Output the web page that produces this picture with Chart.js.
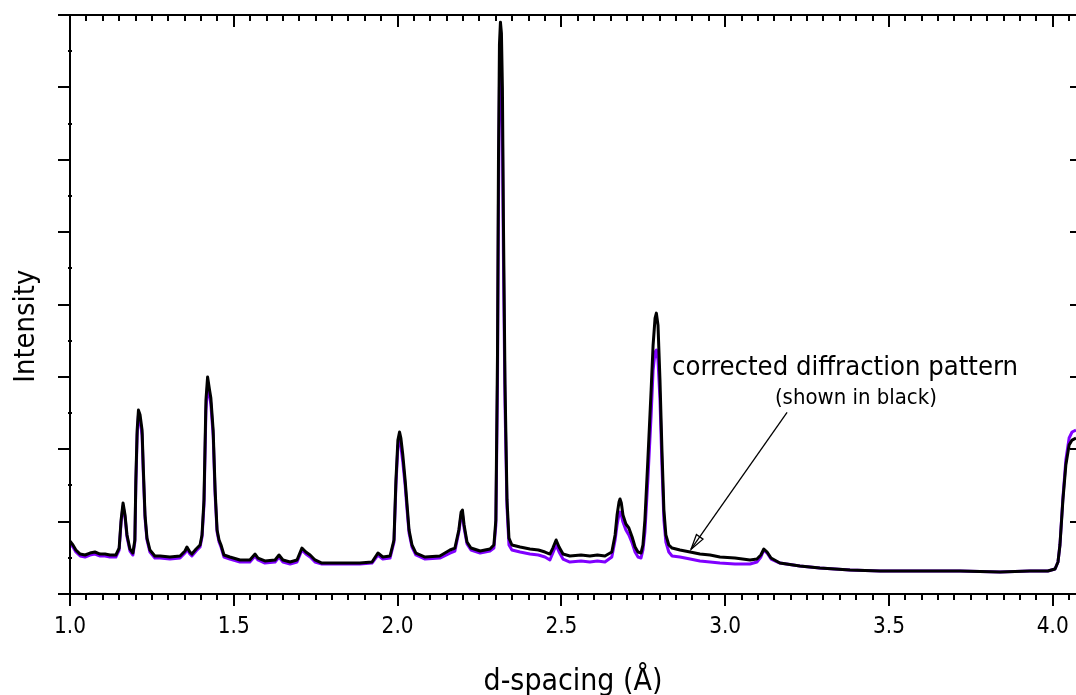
<!DOCTYPE html>
<html><head><meta charset="utf-8">
<script src="https://cdn.jsdelivr.net/npm/chart.js@4/dist/chart.umd.min.js"></script>
<style>html,body{margin:0;padding:0;background:#fff;overflow:hidden}</style>
</head><body>
<canvas id="c" width="1076" height="695"></canvas>
<script>
// ---- data (d-spacing in Å, intensity in arbitrary units) ----
const dSpacing = [
1.000,1.009,1.018,1.031,1.046,1.061,1.076,1.092,1.107,1.122,1.140,1.150,1.156,1.162,1.168,1.174,1.183,1.192,1.198,1.201,
1.205,1.209,1.214,1.220,1.224,1.229,1.235,1.244,1.259,1.275,1.305,1.336,1.351,1.357,1.366,1.372,1.385,1.397,1.403,1.409,
1.415,1.420,1.426,1.430,1.437,1.443,1.449,1.455,1.461,1.470,1.488,1.519,1.549,1.565,1.574,1.595,1.626,1.638,1.650,1.672,
1.693,1.708,1.720,1.733,1.748,1.769,1.824,1.885,1.922,1.940,1.955,1.977,1.989,1.995,2.001,2.006,2.010,2.016,2.023,2.029,
2.035,2.044,2.056,2.084,2.129,2.160,2.175,2.187,2.194,2.198,2.203,2.212,2.224,2.252,2.282,2.294,2.300,2.305,2.308,2.311,
2.314,2.317,2.320,2.323,2.328,2.334,2.340,2.349,2.374,2.404,2.430,2.450,2.465,2.474,2.484,2.493,2.505,2.526,2.560,2.587,
2.610,2.633,2.654,
2.664,2.670,2.676,2.679,2.683,2.688,2.697,2.706,2.716,2.725,2.734,2.743,2.749,2.755,2.764,2.774,2.780,2.786,2.790,2.795,
2.801,2.807,2.813,2.819,2.828,2.838,2.862,2.893,2.923,2.954,2.984,3.030,3.076,3.097,3.109,3.118,3.128,3.140,3.167,3.228,
3.289,3.381,3.473,3.595,3.717,3.839,3.930,3.985,4.007,4.016,4.022,4.031,4.040,4.050,4.059,4.071];

const correctedIntensity = [
0.732,0.677,0.608,0.552,0.539,0.566,0.580,0.552,0.552,0.539,0.539,0.635,1.022,1.257,1.091,0.815,0.622,0.566,0.746,1.575,
2.265,2.541,2.472,2.265,1.713,1.091,0.773,0.608,0.525,0.525,0.511,0.525,0.594,0.649,0.580,0.552,0.622,0.677,0.815,1.298,
2.680,2.997,2.818,2.707,2.265,1.436,0.884,0.746,0.677,0.539,0.511,0.470,0.470,0.552,0.497,0.456,0.470,0.539,0.470,0.442,
0.470,0.635,0.580,0.539,0.470,0.428,0.428,0.428,0.442,0.566,0.511,0.525,0.746,1.575,2.127,2.238,2.155,1.920,1.575,1.229,
0.884,0.677,0.566,0.511,0.525,0.608,0.635,0.884,1.133,1.160,0.953,0.718,0.635,0.594,0.622,0.677,1.022,3.300,6.000,7.600,
7.901,7.750,7.000,5.200,2.900,1.300,0.773,0.677,0.649,0.622,0.608,0.580,0.552,0.635,0.746,0.649,0.552,0.525,0.539,0.525,
0.539,0.525,0.580,
0.815,1.091,1.271,1.312,1.257,1.091,0.967,0.912,0.787,0.649,0.580,0.566,0.677,1.022,1.851,2.818,3.439,3.812,3.881,3.715,
2.956,1.989,1.160,0.815,0.677,0.635,0.608,0.580,0.552,0.539,0.511,0.497,0.470,0.483,0.539,0.622,0.580,0.497,0.428,0.387,
0.359,0.331,0.318,0.318,0.318,0.304,0.318,0.318,0.345,0.442,0.677,1.298,1.782,2.058,2.127,2.155];

const originalIntensity = [
0.704,0.649,0.580,0.525,0.511,0.539,0.552,0.525,0.525,0.511,0.511,0.608,0.994,1.215,1.064,0.787,0.594,0.539,0.718,1.506,
2.196,2.472,2.403,2.196,1.644,1.050,0.746,0.580,0.497,0.497,0.483,0.497,0.566,0.622,0.552,0.525,0.594,0.649,0.787,1.229,
2.541,2.887,2.735,2.624,2.196,1.367,0.856,0.718,0.649,0.511,0.483,0.442,0.442,0.525,0.470,0.428,0.442,0.511,0.442,0.414,
0.442,0.608,0.552,0.511,0.442,0.414,0.414,0.414,0.428,0.539,0.483,0.497,0.718,1.506,2.044,2.127,2.044,1.823,1.506,1.160,
0.843,0.649,0.539,0.483,0.497,0.566,0.594,0.856,1.091,1.105,0.912,0.691,0.608,0.566,0.594,0.635,0.953,2.900,5.400,7.000,
7.238,7.100,6.400,4.700,2.600,1.200,0.677,0.608,0.580,0.552,0.539,0.511,0.470,0.566,0.677,0.580,0.483,0.442,0.456,0.442,
0.456,0.442,0.511,
0.746,0.953,1.105,1.133,1.091,0.994,0.884,0.815,0.704,0.580,0.511,0.497,0.608,0.856,1.575,2.472,3.094,3.343,3.370,3.232,
2.680,1.782,1.022,0.718,0.580,0.525,0.511,0.483,0.456,0.442,0.428,0.414,0.414,0.442,0.511,0.608,0.566,0.483,0.428,0.387,
0.359,0.331,0.318,0.318,0.318,0.304,0.318,0.318,0.345,0.442,0.677,1.326,1.851,2.155,2.238,2.265];

const xLimits = [1.0, 4.071];
const yLimits = [0, 8];
const xMajorStep = 0.5, xMinorStep = 0.05;
const yMajorStep = 1, yMinorStep = 0.5;
const xAxisTitle = 'd-spacing (Å)';
const yAxisTitle = 'Intensity';
const noteTitle = 'corrected diffraction pattern';
const noteSub = '(shown in black)';
// annotation anchors in data units
const noteTitleAt = [3.366, 3.025];
const noteSubAt = [3.399, 2.622];
const arrowFrom = [3.189, 2.51];
const arrowTo = [2.896, 0.62];
const yTitleCenter = 3.70;

// ---- fonts ----
const FAMILY = "'DejaVu Sans Condensed', 'DejaVu Sans', sans-serif";
const mctx = document.createElement('canvas').getContext('2d');
function fitSize(text, target) {
  mctx.font = '100px ' + FAMILY;
  return 100 * target / mctx.measureText(text).width;
}
const tickSize = fitSize('1.0', 32);
const xTitleSize = fitSize(xAxisTitle, 179);
const yTitleSize = fitSize(yAxisTitle, 113);
const noteSize = fitSize(noteTitle, 346);
const subSize = fitSize(noteSub, 162);

const framePlugin = {
  id: 'frame',
  afterDatasetsDraw(chart) {
    const ctx = chart.ctx, xs = chart.scales.x, ys = chart.scales.y;
    const L = xs.left, R = xs.right, T = ys.top, B = ys.bottom;
    ctx.save();
    ctx.strokeStyle = '#000';
    ctx.lineWidth = 2;
    ctx.lineCap = 'butt';
    ctx.beginPath();
    ctx.moveTo(L, T - 1); ctx.lineTo(L, B + 1);
    ctx.moveTo(L, B); ctx.lineTo(R, B);
    ctx.moveTo(L, T); ctx.lineTo(R, T);
    // x ticks
    const nx = Math.round((xLimits[1] - xLimits[0]) / xMinorStep);
    for (let i = 0; i <= nx; i++) {
      const v = xLimits[0] + i * xMinorStep;
      if (v > xLimits[1] + 1e-9) break;
      const px = Math.round(xs.getPixelForValue(v));
      const major = i % Math.round(xMajorStep / xMinorStep) === 0;
      const len = major ? 12 : 6;
      ctx.moveTo(px, B); ctx.lineTo(px, B + len);
      ctx.moveTo(px, T); ctx.lineTo(px, T + len);
    }
    // y ticks
    const ny = Math.round((yLimits[1] - yLimits[0]) / yMinorStep);
    for (let i = 0; i <= ny; i++) {
      const v = yLimits[0] + i * yMinorStep;
      const py = Math.round(ys.getPixelForValue(v));
      const major = i % Math.round(yMajorStep / yMinorStep) === 0;
      if (major) {
        ctx.moveTo(L - 12, py); ctx.lineTo(L, py);
        ctx.moveTo(R - 6, py); ctx.lineTo(R, py);
      } else {
        ctx.moveTo(L - 2, py); ctx.lineTo(L + 2, py);
      }
    }
    ctx.stroke();

    // y axis title
    ctx.fillStyle = '#000';
    ctx.save();
    ctx.translate(L - 36, ys.getPixelForValue(yTitleCenter));
    ctx.rotate(-Math.PI / 2);
    ctx.textAlign = 'center';
    ctx.textBaseline = 'alphabetic';
    ctx.font = yTitleSize.toFixed(2) + 'px ' + FAMILY;
    ctx.fillText(yAxisTitle, 0, 0);
    ctx.restore();

    // annotation
    ctx.textAlign = 'center';
    ctx.textBaseline = 'alphabetic';
    ctx.font = noteSize.toFixed(2) + 'px ' + FAMILY;
    ctx.fillText(noteTitle, xs.getPixelForValue(noteTitleAt[0]), ys.getPixelForValue(noteTitleAt[1]));
    ctx.font = subSize.toFixed(2) + 'px ' + FAMILY;
    ctx.fillText(noteSub, xs.getPixelForValue(noteSubAt[0]), ys.getPixelForValue(noteSubAt[1]));

    // arrow
    const x1 = xs.getPixelForValue(arrowFrom[0]), y1 = ys.getPixelForValue(arrowFrom[1]);
    const x2 = xs.getPixelForValue(arrowTo[0]), y2 = ys.getPixelForValue(arrowTo[1]);
    const ang = Math.atan2(y2 - y1, x2 - x1);
    ctx.lineWidth = 1.3;
    ctx.beginPath();
    ctx.moveTo(x1, y1); ctx.lineTo(x2, y2);
    ctx.stroke();
    const hl = 15, hw = 4;
    const bx = x2 - hl * Math.cos(ang), by = y2 - hl * Math.sin(ang);
    ctx.beginPath();
    ctx.moveTo(x2, y2);
    ctx.lineTo(bx + hw * Math.sin(ang), by - hw * Math.cos(ang));
    ctx.lineTo(bx - hw * Math.sin(ang), by + hw * Math.cos(ang));
    ctx.closePath();
    ctx.fillStyle = '#fff';
    ctx.fill();
    ctx.stroke();
    ctx.beginPath();
    ctx.moveTo(x2, y2); ctx.lineTo(bx, by);
    ctx.stroke();
    ctx.restore();
  }
};

const toPoints = (xsArr, ysArr) => xsArr.map((x, i) => ({x: x, y: ysArr[i]}));

new Chart(document.getElementById('c'), {
  type: 'line',
  data: {
    datasets: [
      { label: 'corrected', data: toPoints(dSpacing, correctedIntensity),
        borderColor: '#000000', borderWidth: 3, pointRadius: 0, tension: 0,
        borderJoinStyle: 'round', fill: false },
      { label: 'original', data: toPoints(dSpacing, originalIntensity),
        borderColor: '#8000ff', borderWidth: 3, pointRadius: 0, tension: 0,
        borderJoinStyle: 'round', fill: false }
    ]
  },
  options: {
    responsive: false,
    animation: false,
    devicePixelRatio: 1,
    layout: { padding: { top: 15, right: 0, left: 0, bottom: 0 } },
    plugins: { legend: { display: false }, tooltip: { enabled: false } },
    scales: {
      x: {
        type: 'linear', position: 'bottom',
        min: xLimits[0], max: xLimits[1],
        grid: { display: false, drawTicks: false },
        border: { display: false },
        ticks: {
          stepSize: xMajorStep, includeBounds: false, autoSkip: false, maxRotation: 0,
          color: '#000', padding: 20,
          font: { family: FAMILY, size: tickSize },
          callback: v => v.toFixed(1)
        },
        title: { display: true, text: xAxisTitle, color: '#000',
          font: { family: FAMILY, size: xTitleSize, lineHeight: 1 }, padding: { top: 0, bottom: -2 } },
        afterFit: s => { s.height = 101; s.paddingLeft = 0; s.paddingRight = 0; }
      },
      y: {
        type: 'linear', position: 'left',
        min: yLimits[0], max: yLimits[1],
        grid: { display: false, drawTicks: false },
        border: { display: false },
        ticks: { display: false, stepSize: yMajorStep },
        title: { display: false },
        afterFit: s => { s.width = 70; s.paddingTop = 0; s.paddingBottom = 0; }
      }
    }
  },
  plugins: [framePlugin]
});
</script>
</body></html>
